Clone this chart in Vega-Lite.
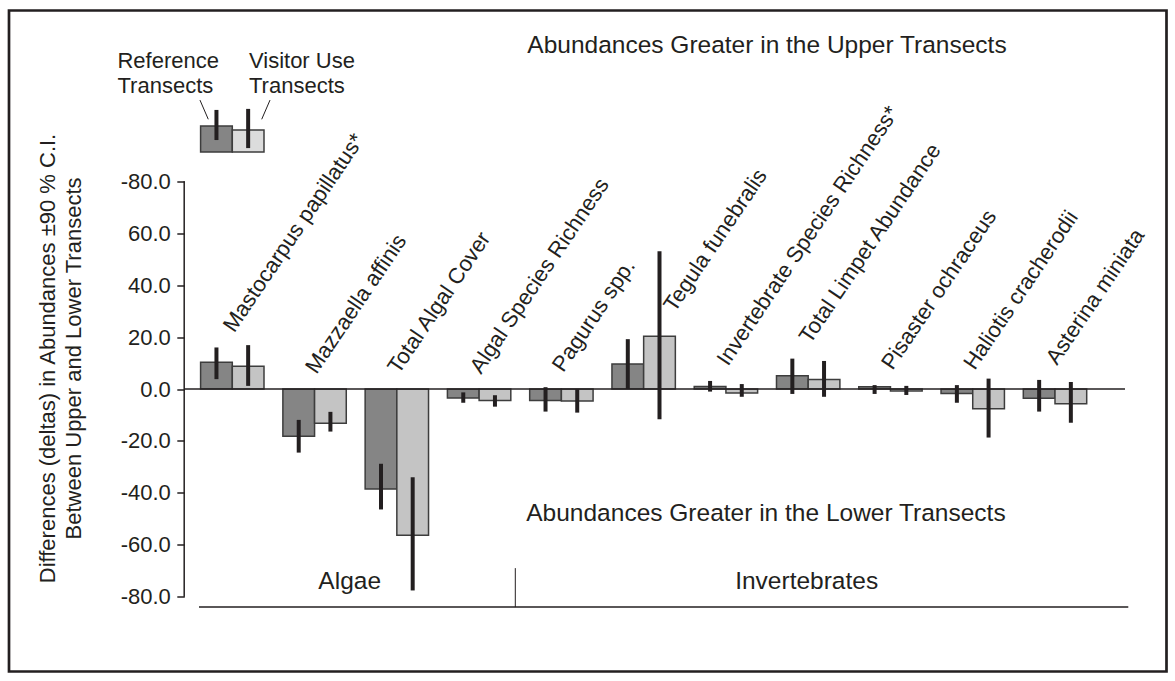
{
  "$schema": "https://vega.github.io/schema/vega-lite/v6.json",
  "width": 1157.5,
  "height": 661,
  "autosize": {"type": "none"},
  "padding": {"left": 9, "top": 10.5, "right": 8.5, "bottom": 9.5},
  "background": "white",
  "config": {
    "view": {"stroke": "#231f20", "strokeWidth": 2.7},
    "font": "Liberation Sans",
    "text": {"font": "Liberation Sans", "color": "#231f20"}
  },
  "datasets": {
    "deltas": [
      {"category": "Mastocarpus papillatus", "series": "Reference Transects", "value": 10.3, "lo": 3.8, "hi": 16.0, "sig": true},
      {"category": "Mastocarpus papillatus", "series": "Visitor Use Transects", "value": 8.8, "lo": 1.2, "hi": 16.9, "sig": true},
      {"category": "Mazzaella affinis", "series": "Reference Transects", "value": -18.2, "lo": -24.5, "hi": -11.9, "sig": false},
      {"category": "Mazzaella affinis", "series": "Visitor Use Transects", "value": -13.2, "lo": -16.4, "hi": -8.8, "sig": false},
      {"category": "Total Algal Cover", "series": "Reference Transects", "value": -38.5, "lo": -46.4, "hi": -28.8, "sig": false},
      {"category": "Total Algal Cover", "series": "Visitor Use Transects", "value": -56.3, "lo": -77.6, "hi": -34.0, "sig": false},
      {"category": "Algal Species Richness", "series": "Reference Transects", "value": -3.5, "lo": -5.3, "hi": -1.3, "sig": false},
      {"category": "Algal Species Richness", "series": "Visitor Use Transects", "value": -4.4, "lo": -6.8, "hi": -2.4, "sig": false},
      {"category": "Pagurus spp.", "series": "Reference Transects", "value": -4.4, "lo": -8.7, "hi": 0.7, "sig": false},
      {"category": "Pagurus spp.", "series": "Visitor Use Transects", "value": -4.6, "lo": -9.1, "hi": -0.1, "sig": false},
      {"category": "Tegula funebralis", "series": "Reference Transects", "value": 9.6, "lo": 0.0, "hi": 19.2, "sig": false},
      {"category": "Tegula funebralis", "series": "Visitor Use Transects", "value": 20.3, "lo": -11.7, "hi": 53.1, "sig": false},
      {"category": "Invertebrate Species Richness", "series": "Reference Transects", "value": 1.0, "lo": -1.0, "hi": 3.1, "sig": true},
      {"category": "Invertebrate Species Richness", "series": "Visitor Use Transects", "value": -1.5, "lo": -3.0, "hi": 1.9, "sig": true},
      {"category": "Total Limpet Abundance", "series": "Reference Transects", "value": 5.1, "lo": -1.9, "hi": 11.7, "sig": false},
      {"category": "Total Limpet Abundance", "series": "Visitor Use Transects", "value": 3.7, "lo": -3.0, "hi": 10.8, "sig": false},
      {"category": "Pisaster ochraceus", "series": "Reference Transects", "value": 0.9, "lo": -1.9, "hi": 1.5, "sig": false},
      {"category": "Pisaster ochraceus", "series": "Visitor Use Transects", "value": -0.8, "lo": -2.3, "hi": 1.2, "sig": false},
      {"category": "Haliotis cracherodii", "series": "Reference Transects", "value": -1.7, "lo": -5.3, "hi": 1.5, "sig": false},
      {"category": "Haliotis cracherodii", "series": "Visitor Use Transects", "value": -7.6, "lo": -18.7, "hi": 4.0, "sig": false},
      {"category": "Asterina miniata", "series": "Reference Transects", "value": -3.6, "lo": -8.7, "hi": 3.5, "sig": false},
      {"category": "Asterina miniata", "series": "Visitor Use Transects", "value": -5.7, "lo": -13.0, "hi": 2.7, "sig": false}
    ]
  },
  "layer": [
    {
      "data": {"name": "deltas"},
      "mark": {"type": "bar", "stroke": "#3d3d3d", "strokeWidth": 1.5},
      "encoding": {
        "x": {
          "field": "category", "type": "nominal", "axis": null,
          "scale": {
            "type": "band",
            "domain": ["Mastocarpus papillatus", "Mazzaella affinis", "Total Algal Cover", "Algal Species Richness", "Pagurus spp.", "Tegula funebralis", "Invertebrate Species Richness", "Total Limpet Abundance", "Pisaster ochraceus", "Haliotis cracherodii", "Asterina miniata"],
            "range": [191.6, 1077.7],
            "paddingInner": 0.2294, "paddingOuter": 0, "align": 0.5, "round": false
          }
        },
        "xOffset": {
          "field": "series", "type": "nominal",
          "scale": {"domain": ["Reference Transects", "Visitor Use Transects"], "paddingInner": 0, "paddingOuter": 0}
        },
        "y": {
          "field": "value", "type": "quantitative",
          "scale": {"domain": [-108.82, 145.8], "nice": false, "zero": false},
          "axis": {
            "values": [-80, -60, -40, -20, 0, 20, 40, 60, 80],
            "labelExpr": "datum.value == 80 ? '-80.0' : replace(format(datum.value, '.1f'), '−', '-')",
            "offset": -175.3,
            "domain": false, "grid": false,
            "tickSize": 7.5, "tickWidth": 1.5, "tickColor": "#231f20",
            "labelFont": "Liberation Sans", "labelFontSize": 22, "labelColor": "#231f20", "labelPadding": 6.5,
            "title": ["Differences (deltas) in Abundances ±90 % C.I.", "Between Upper and Lower Transects"],
            "titleFont": "Liberation Sans", "titleFontSize": 22, "titleFontWeight": "normal", "titleColor": "#231f20",
            "titleX": -130.3, "titleY": 347.5, "titleAngle": 270, "titleAlign": "center", "titleBaseline": "alphabetic", "titleLineHeight": 26
          }
        },
        "y2": {"datum": 0},
        "color": {"field": "series", "type": "nominal", "scale": {"range": ["#858585", "#c4c4c4"]}, "legend": null}
      }
    },
    {
      "data": {"name": "deltas"},
      "mark": {"type": "rule", "strokeWidth": 4, "color": "#231f20"},
      "encoding": {
        "x": {"field": "category", "type": "nominal"},
        "xOffset": {"field": "series", "type": "nominal"},
        "y": {"field": "lo", "type": "quantitative"},
        "y2": {"field": "hi"}
      }
    },
    {
      "data": {"values": [{}]},
      "mark": {"type": "rule", "strokeWidth": 1.5, "color": "#231f20"},
      "encoding": {
        "x": {"datum": "Mastocarpus papillatus", "bandPosition": -0.2587},
        "y": {"datum": -80},
        "y2": {"datum": 80}
      }
    },
    {
      "data": {"values": [{}]},
      "mark": {"type": "rule", "strokeWidth": 1.5, "color": "#231f20"},
      "encoding": {
        "x": {"datum": "Mastocarpus papillatus", "bandPosition": -0.2587},
        "x2": {"datum": "Asterina miniata", "bandPosition": 1.604},
        "y": {"datum": 0}
      }
    },
    {
      "data": {"values": [{}]},
      "mark": {"type": "rule", "strokeWidth": 1.5, "color": "#231f20"},
      "encoding": {
        "x": {"datum": "Mastocarpus papillatus", "bandPosition": -0.025},
        "x2": {"datum": "Asterina miniata", "bandPosition": 1.656},
        "y": {"datum": -84}
      }
    },
    {
      "data": {"values": [{}]},
      "mark": {"type": "rule", "strokeWidth": 1, "color": "#231f20"},
      "encoding": {
        "x": {"datum": "Algal Species Richness", "bandPosition": 1.071},
        "y": {"datum": -69},
        "y2": {"datum": -84}
      }
    },
    {
      "data": {"name": "deltas"},
      "transform": [
        {"filter": "datum.series == 'Reference Transects' && datum.category != 'Tegula funebralis'"},
        {"calculate": "max(0, datum.hi)", "as": "labelAt"},
        {"calculate": "datum.category + (datum.sig ? '*' : '')", "as": "label"}
      ],
      "mark": {"type": "text", "angle": 304, "align": "left", "baseline": "alphabetic", "dx": 12.7, "dy": -6.2, "fontSize": 22},
      "encoding": {
        "x": {"field": "category", "type": "nominal"},
        "y": {"field": "labelAt", "type": "quantitative"},
        "text": {"field": "label"}
      }
    },
    {
      "data": {"name": "deltas"},
      "transform": [
        {"filter": "datum.series == 'Reference Transects' && datum.category == 'Tegula funebralis'"}
      ],
      "mark": {"type": "text", "angle": 304, "align": "left", "baseline": "alphabetic", "dx": 38.9, "dy": 11.2, "fontSize": 22},
      "encoding": {
        "x": {"field": "category", "type": "nominal"},
        "y": {"field": "hi", "type": "quantitative"},
        "text": {"field": "category"}
      }
    },
    {
      "data": {"values": [{}]},
      "mark": {"type": "text", "align": "center", "baseline": "alphabetic", "fontSize": 24.5},
      "encoding": {
        "x": {"datum": "Total Limpet Abundance", "bandPosition": -0.15},
        "y": {"datum": 129.3},
        "text": {"value": "Abundances Greater in the Upper Transects"}
      }
    },
    {
      "data": {"values": [{}]},
      "mark": {"type": "text", "align": "center", "baseline": "alphabetic", "fontSize": 24.5},
      "encoding": {
        "x": {"datum": "Total Limpet Abundance", "bandPosition": -0.166},
        "y": {"datum": -50.7},
        "text": {"value": "Abundances Greater in the Lower Transects"}
      }
    },
    {
      "data": {"values": [{}]},
      "mark": {"type": "text", "align": "center", "baseline": "alphabetic", "fontSize": 24.5},
      "encoding": {
        "x": {"datum": "Mazzaella affinis", "bandPosition": 1.054},
        "y": {"datum": -77.0},
        "text": {"value": "Algae"}
      }
    },
    {
      "data": {"values": [{}]},
      "mark": {"type": "text", "align": "center", "baseline": "alphabetic", "fontSize": 24.5},
      "encoding": {
        "x": {"datum": "Total Limpet Abundance", "bandPosition": 0.476},
        "y": {"datum": -77.0},
        "text": {"value": "Invertebrates"}
      }
    },
    {
      "data": {"values": [{}]},
      "mark": {"type": "text", "align": "left", "baseline": "alphabetic", "fontSize": 22, "lineHeight": 25},
      "encoding": {
        "x": {"datum": "Mastocarpus papillatus", "bandPosition": -1.311},
        "y": {"datum": 123.5},
        "text": {"value": ["Reference", "Transects"]}
      }
    },
    {
      "data": {"values": [{}]},
      "mark": {"type": "text", "align": "left", "baseline": "alphabetic", "fontSize": 22, "lineHeight": 25},
      "encoding": {
        "x": {"datum": "Mastocarpus papillatus", "bandPosition": 0.763},
        "y": {"datum": 123.5},
        "text": {"value": ["Visitor Use", "Transects"]}
      }
    },
    {
      "data": {"values": [{"series": "Reference Transects"}]},
      "mark": {"type": "bar", "fill": "#858585", "stroke": "#3d3d3d", "strokeWidth": 1.5},
      "encoding": {
        "x": {"datum": "Mastocarpus papillatus"},
        "xOffset": {"field": "series", "type": "nominal"},
        "y": {"datum": 91.3},
        "y2": {"datum": 101.3}
      }
    },
    {
      "data": {"values": [{"series": "Visitor Use Transects"}]},
      "mark": {"type": "bar", "fill": "#dcdcdc", "stroke": "#3d3d3d", "strokeWidth": 1.5},
      "encoding": {
        "x": {"datum": "Mastocarpus papillatus"},
        "xOffset": {"field": "series", "type": "nominal"},
        "y": {"datum": 91.3},
        "y2": {"datum": 99.8}
      }
    },
    {
      "data": {"values": [{"series": "Reference Transects"}]},
      "mark": {"type": "rule", "strokeWidth": 4, "color": "#231f20"},
      "encoding": {
        "x": {"datum": "Mastocarpus papillatus"},
        "xOffset": {"field": "series", "type": "nominal"},
        "y": {"datum": 95.9},
        "y2": {"datum": 107.5}
      }
    },
    {
      "data": {"values": [{"series": "Visitor Use Transects"}]},
      "mark": {"type": "rule", "strokeWidth": 4, "color": "#231f20"},
      "encoding": {
        "x": {"datum": "Mastocarpus papillatus"},
        "xOffset": {"field": "series", "type": "nominal"},
        "y": {"datum": 92.8},
        "y2": {"datum": 107.9}
      }
    },
    {
      "data": {"values": [{}]},
      "mark": {"type": "rule", "strokeWidth": 1, "color": "#231f20"},
      "encoding": {
        "x": {"datum": "Mastocarpus papillatus", "bandPosition": -0.01},
        "x2": {"datum": "Mastocarpus papillatus", "bandPosition": 0.121},
        "y": {"datum": 111.3},
        "y2": {"datum": 103.9}
      }
    },
    {
      "data": {"values": [{}]},
      "mark": {"type": "rule", "strokeWidth": 1, "color": "#231f20"},
      "encoding": {
        "x": {"datum": "Mastocarpus papillatus", "bandPosition": 1.095},
        "x2": {"datum": "Mastocarpus papillatus", "bandPosition": 0.964},
        "y": {"datum": 111.3},
        "y2": {"datum": 103.9}
      }
    }
  ]
}
